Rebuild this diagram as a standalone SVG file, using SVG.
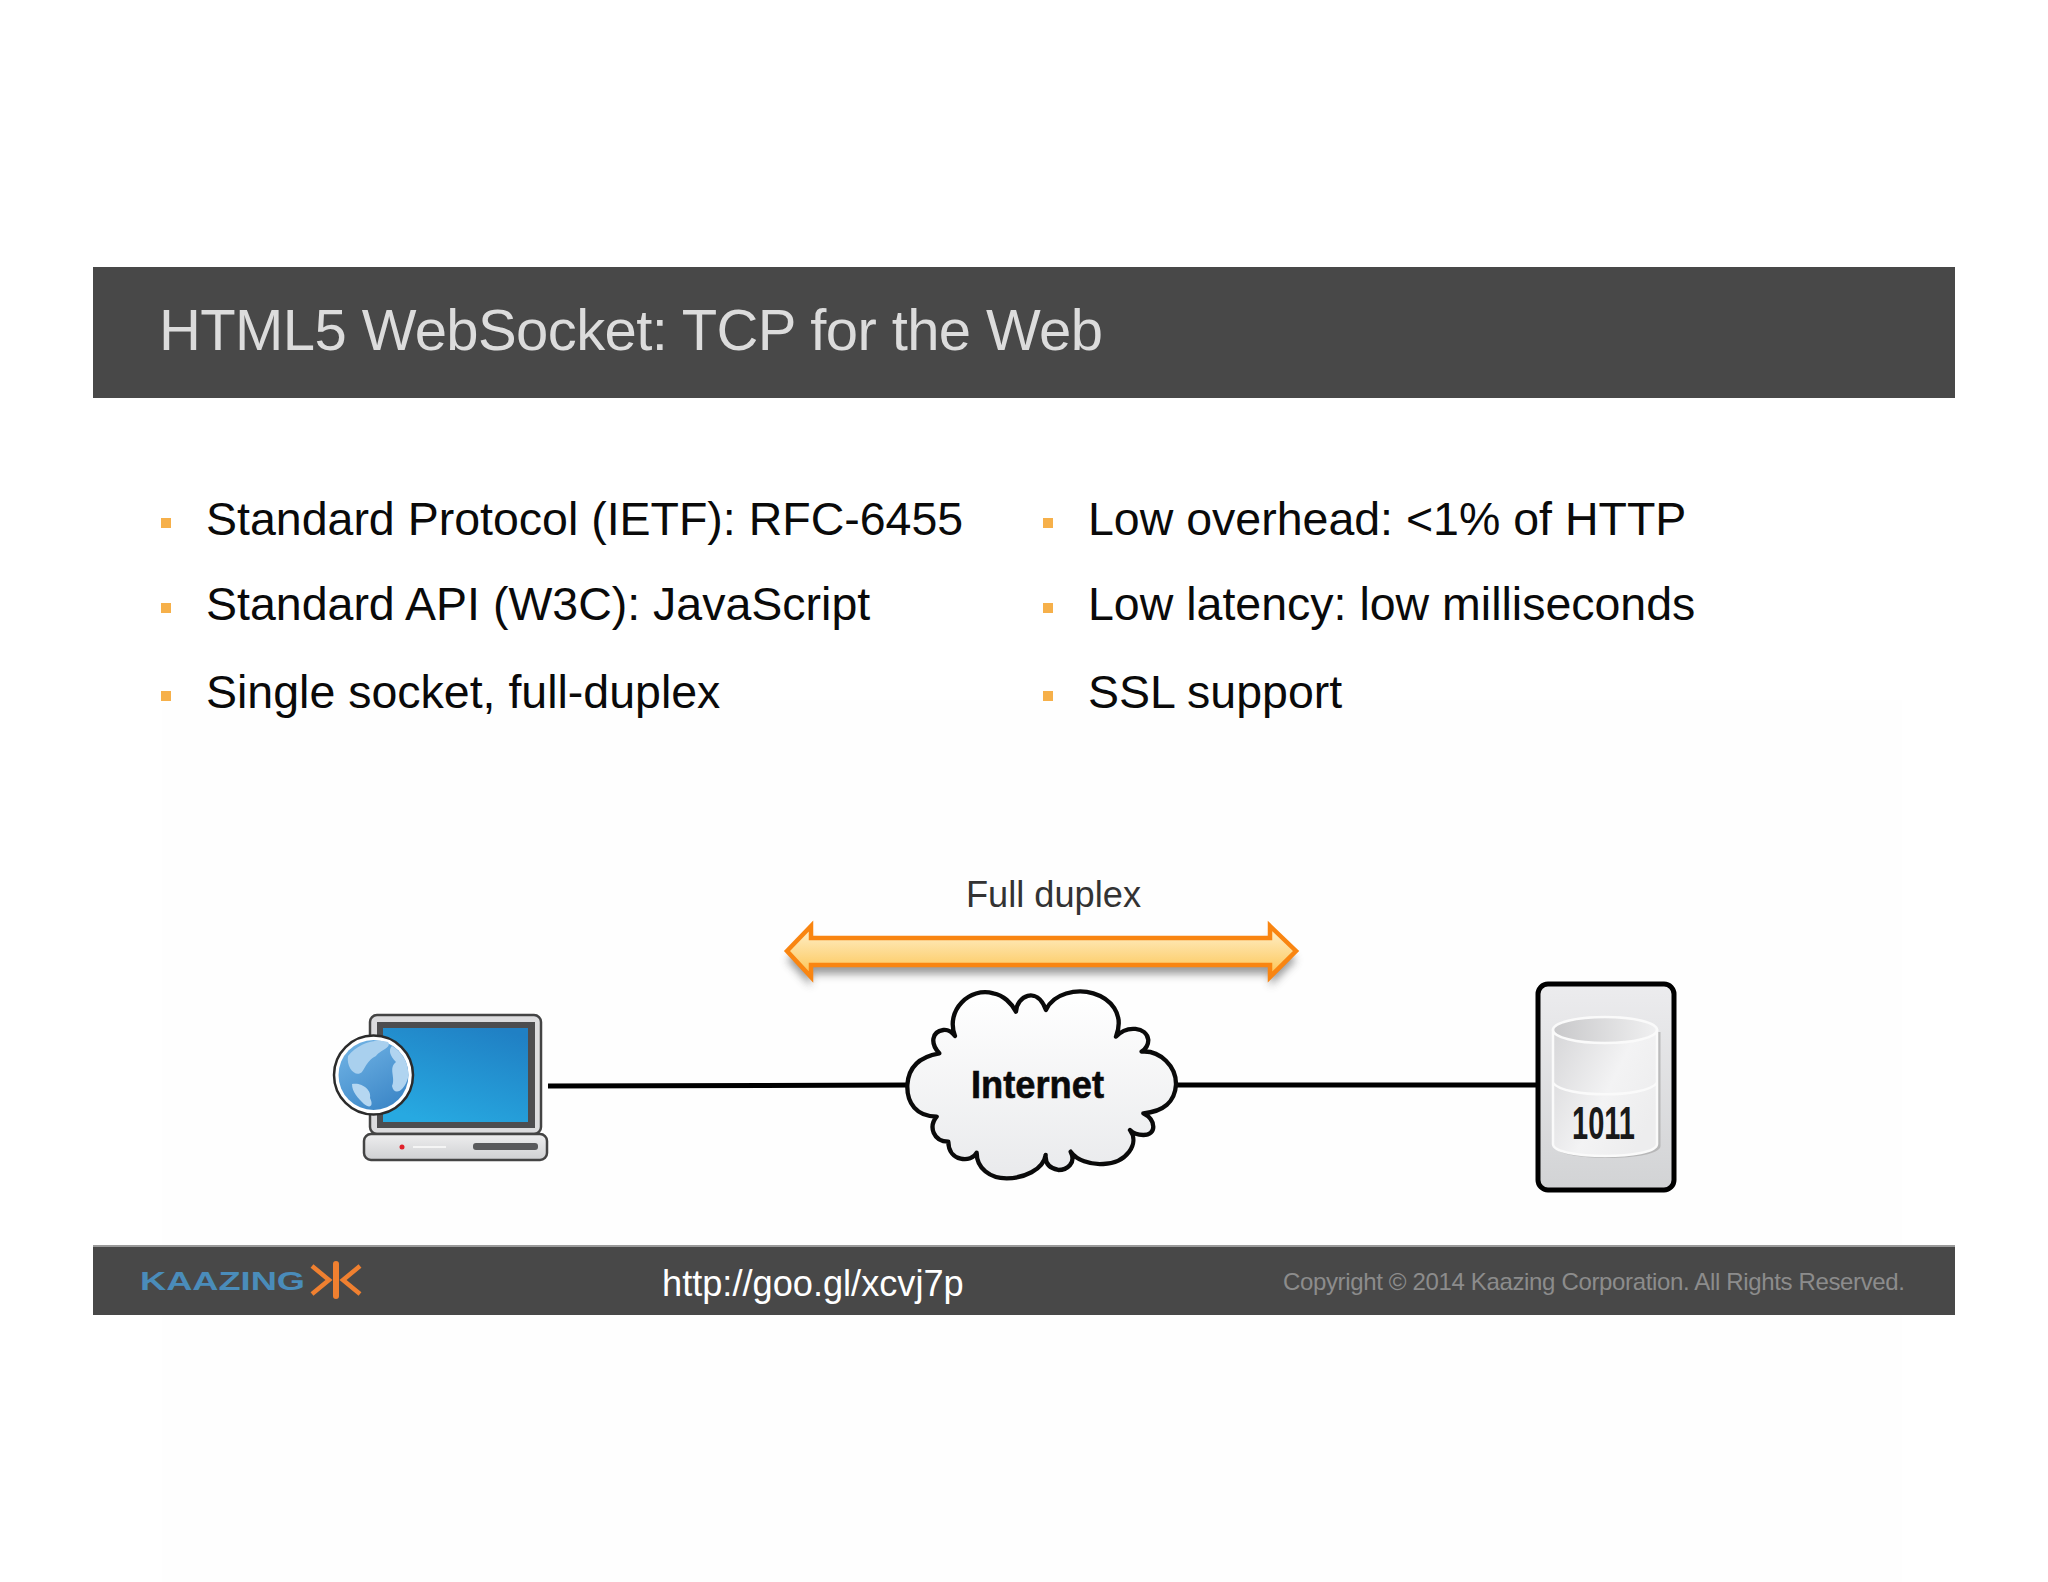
<svg xmlns="http://www.w3.org/2000/svg" width="2048" height="1582" viewBox="0 0 2048 1582">
<style>
text{font-family:"Liberation Sans",Arial,sans-serif}
.b{font-size:46.500px;fill:#0a0a0a}
.sq{fill:#f6b04a}
.bar{fill:#484848}
.wire{stroke:#000;stroke-width:5;fill:none}
.mark{stroke:#f08030;stroke-width:4.500;fill:none}
</style>
<defs>
<linearGradient id="arrowG" x1="0" y1="0" x2="0" y2="1"><stop offset="0.2" stop-color="#fee9b8"/><stop offset="0.75" stop-color="#fdcf70"/><stop offset="1" stop-color="#fbbd4d"/></linearGradient>
<filter id="sh" x="-5%" y="-30%" width="110%" height="170%"><feGaussianBlur stdDeviation="4"/></filter>
<linearGradient id="screenG" x1="0.8" y1="0" x2="0.3" y2="1"><stop offset="0" stop-color="#2080c4"/><stop offset="1" stop-color="#27a9e1"/></linearGradient>
<linearGradient id="baseG" x1="0" y1="0" x2="0" y2="1"><stop offset="0" stop-color="#eeeeef"/><stop offset="1" stop-color="#cfd0d2"/></linearGradient>
<linearGradient id="globeG" x1="0.2" y1="0" x2="0.8" y2="1"><stop offset="0" stop-color="#6fb2e4"/><stop offset="1" stop-color="#3a85c6"/></linearGradient>
<linearGradient id="cloudG" x1="0" y1="0" x2="0" y2="1"><stop offset="0" stop-color="#ffffff"/><stop offset="1" stop-color="#e9eaec"/></linearGradient>
<linearGradient id="srvG" x1="0" y1="0" x2="0" y2="1"><stop offset="0" stop-color="#ececee"/><stop offset="1" stop-color="#d2d3d5"/></linearGradient>
<linearGradient id="cylG" x1="0" y1="0" x2="1" y2="0.6"><stop offset="0" stop-color="#d6d6d8"/><stop offset="0.6" stop-color="#f3f3f4"/><stop offset="1" stop-color="#ededee"/></linearGradient>
<linearGradient id="cylTop" x1="0" y1="0" x2="1" y2="0"><stop offset="0" stop-color="#c8c8ca"/><stop offset="1" stop-color="#f0f0f1"/></linearGradient>
</defs>
<rect width="2048" height="1582" fill="#ffffff"/>
<rect x="162" y="700" width="1740" height="882" fill="#fefefe"/>

<g id="title-bar"><rect class="bar" x="93" y="267" width="1862" height="131"/>
<text x="159" y="350" font-size="58" fill="#dcdcdc" textLength="944">HTML5 WebSocket: TCP for the Web</text></g>

<g id="bullets-left">
<rect class="sq" x="161" y="518" width="10" height="10"/><text class="b" x="206" y="535">Standard Protocol (IETF): RFC-6455</text>
<rect class="sq" x="161" y="603" width="10" height="10"/><text class="b" x="206" y="620">Standard API (W3C): JavaScript</text>
<rect class="sq" x="161" y="691" width="10" height="10"/><text class="b" x="206" y="708">Single socket, full-duplex</text>
</g>
<g id="bullets-right">
<rect class="sq" x="1043" y="518" width="10" height="10"/><text class="b" x="1088" y="535">Low overhead: &lt;1% of HTTP</text>
<rect class="sq" x="1043" y="603" width="10" height="10"/><text class="b" x="1088" y="620">Low latency: low milliseconds</text>
<rect class="sq" x="1043" y="691" width="10" height="10"/><text class="b" x="1088" y="708">SSL support</text>
</g>

<g id="connectors">
<line class="wire" x1="548" y1="1086" x2="910" y2="1085"/>
<line class="wire" x1="1175" y1="1085" x2="1540" y2="1085"/>
</g>

<g id="full-duplex">
<text x="966" y="907" font-size="36.200" fill="#333333">Full duplex</text>
<path d="M787 951L811 926V938H1270V926L1296 951L1270 977V965H811V977Z" fill="#555" opacity="0.6" filter="url(#sh)" transform="translate(0,9)"/>
<path d="M787 951L811 926V938H1270V926L1296 951L1270 977V965H811V977Z" fill="url(#arrowG)" stroke="#f98511" stroke-width="4.500" stroke-linejoin="miter"/>
</g>

<g id="laptop">
<rect x="370" y="1015" width="171" height="119" rx="7" fill="#dcdcde" stroke="#444" stroke-width="2.500"/>
<rect x="377" y="1022" width="158" height="106" fill="#4d4d4f"/>
<rect x="383" y="1028" width="145" height="94" fill="url(#screenG)"/>
<rect x="364" y="1134" width="183" height="26" rx="7" fill="url(#baseG)" stroke="#444" stroke-width="2.500"/>
<circle cx="402" cy="1147" r="2.500" fill="#e0202a"/>
<rect x="413" y="1146" width="33" height="2" fill="#f5f5f5"/>
<rect x="473" y="1143" width="65" height="7" rx="3" fill="#595a5c"/>
<circle cx="373.500" cy="1075" r="39.500" fill="#fff" stroke="#2b2b2b" stroke-width="2.500"/>
<circle cx="373.500" cy="1075" r="35" fill="url(#globeG)"/>
<path d="M348 1056C358 1044 374 1038 388 1042C392 1048 380 1050 376 1056C368 1060 366 1066 362 1072C356 1078 346 1068 348 1056Z" fill="#a9d0ee"/>
<path d="M352 1084C362 1082 372 1090 370 1098C374 1106 370 1109 364 1104C358 1098 352 1092 352 1084Z" fill="#b5d7f1"/>
<path d="M392 1046C402 1052 410 1064 408 1078C404 1092 394 1096 392 1086C396 1078 388 1068 396 1062C390 1056 388 1050 392 1046Z" fill="#b0d4f0"/>
</g>

<g id="internet">
<path transform="translate(880,960) scale(0.3333)" d="M82 375C85 320 120 290 178 280C150 250 155 215 190 210C205 208 215 215 225 228C195 150 270 80 340 100C370 105 395 130 408 155C410 110 470 75 498 150C520 100 590 85 640 100C690 115 735 160 708 230C740 195 800 200 805 240C805 255 800 265 785 275C840 270 890 320 888 375C885 425 850 455 790 460C830 480 830 525 790 525C775 525 760 520 750 510C780 550 740 610 670 612C630 615 590 600 572 575C590 610 560 630 535 630C510 625 495 610 497 585C490 630 430 655 380 655C330 655 290 625 290 578C275 610 205 605 205 545C160 545 145 500 170 470C110 470 80 430 82 375Z" fill="url(#cloudG)" stroke="#0a0a0a" stroke-width="13" stroke-linejoin="round"/>
<text x="971" y="1098" font-size="38" font-weight="700" fill="#0a0a0a" stroke="#0a0a0a" stroke-width="0.600" textLength="133" lengthAdjust="spacingAndGlyphs">Internet</text>
</g>

<g id="server">
<rect x="1538" y="984" width="136" height="206" rx="10" fill="url(#srvG)" stroke="#000" stroke-width="5"/>
<path d="M1553 1030V1144C1553 1160 1659 1160 1659 1144V1030Z" fill="#aaa" transform="translate(1.500,2)" opacity="0.7"/>
<path d="M1553 1030V1144C1553 1160 1657 1160 1657 1144V1030Z" fill="url(#cylG)" stroke="#fafafa" stroke-width="2.500"/>
<ellipse cx="1605" cy="1030" rx="52" ry="13" fill="url(#cylTop)" stroke="#fafafa" stroke-width="2.500"/>
<path d="M1553 1083C1565 1098 1645 1098 1657 1083" fill="none" stroke="#fafafa" stroke-width="2.500"/>
<text x="1572" y="1139" font-size="46" font-weight="700" fill="#1a1a1a" textLength="63" lengthAdjust="spacingAndGlyphs">1011</text>
</g>

<g id="footer-bar">
<rect class="bar" x="93" y="1246" width="1862" height="69"/>
<rect x="93" y="1245" width="1862" height="2" fill="#9a9a9a"/>
<text x="140" y="1290" font-size="25" font-weight="700" fill="#4a8cba" textLength="165" lengthAdjust="spacingAndGlyphs">KAAZING</text>
<path class="mark" d="M312 1266L329 1280L312 1294"/>
<path class="mark" d="M360 1266L343 1280L360 1294"/>
<path class="mark" d="M336 1264V1296" stroke-linecap="round" style="stroke-width:6"/>
<text x="662" y="1296" font-size="36.200" fill="#ffffff">http://goo.gl/xcvj7p</text>
<text x="1283" y="1290" font-size="24" fill="#8c8c8c" textLength="622">Copyright © 2014 Kaazing Corporation. All Rights Reserved.</text>
</g>
</svg>
